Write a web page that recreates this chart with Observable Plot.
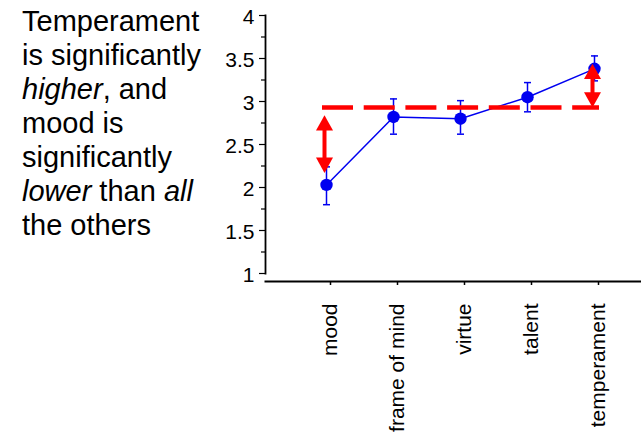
<!DOCTYPE html>
<html>
<head>
<meta charset="utf-8">
<script src="https://cdn.jsdelivr.net/npm/d3@7"></script>
<script src="https://cdn.jsdelivr.net/npm/@observablehq/plot@0.6"></script>
<style>
  html, body { margin: 0; padding: 0; background: #fff; }
  #wrap { position: relative; width: 641px; height: 435px; overflow: hidden; font-family: "Liberation Sans", Arial, sans-serif; }
  #note { position: absolute; left: 22px; top: 4px; font-size: 29px; line-height: 34px; color: #000; width: 200px; }
  #chart { position: absolute; left: 0; top: 0; }
</style>
</head>
<body>
<div id="wrap">
  <div id="chart"></div>
  <div id="note">Temperament<br>is significantly<br><i>higher</i>, and<br>mood is<br>significantly<br><i>lower</i> than <i>all</i><br>the others</div>
</div>
<script>
const categories = ["mood", "frame of mind", "virtue", "talent", "temperament"];
const means = [2.03, 2.82, 2.80, 3.05, 3.38];
const errLow = [1.80, 2.62, 2.62, 2.88, 3.24];
const errHigh = [2.24, 3.03, 3.01, 3.22, 3.53];
const yTicks = [1, 1.5, 2, 2.5, 3, 3.5, 4];
const yMinorTicks = [1.25, 1.75, 2.25, 2.75, 3.25, 3.75];
const referenceLevel = 2.93;
const arrowCategories = ["mood", "temperament"];
const arrowFrom = [2.17, 2.93];
const arrowTo = [2.84, 3.44];

const data = categories.map((c, i) => ({cat: c, mean: means[i], lo: errLow[i], hi: errHigh[i]}));
const arrows = arrowCategories.map((c, i) => ({cat: c, y1: arrowFrom[i], y2: arrowTo[i]}));
const refLine = [{from: categories[0], to: categories[categories.length - 1], y: referenceLevel}];

const blue = "#0000f0";
const red = "#ff0000";

// arrowhead symbols: tip at the data point
const headUp = {draw(ctx, size) { const r = Math.sqrt(size / Math.PI); ctx.moveTo(0, 0); ctx.lineTo(r, 1.8 * r); ctx.lineTo(-r, 1.8 * r); ctx.closePath(); }};
const headDown = {draw(ctx, size) { const r = Math.sqrt(size / Math.PI); ctx.moveTo(0, 0); ctx.lineTo(r, -1.8 * r); ctx.lineTo(-r, -1.8 * r); ctx.closePath(); }};
// error bar cap symbol: short horizontal line
const cap = {draw(ctx, size) { const r = Math.sqrt(size / Math.PI); ctx.moveTo(-r, 0); ctx.lineTo(r, 0); }};

const chart = Plot.plot({
  width: 641,
  height: 435,
  marginLeft: 265,
  marginRight: 0,
  marginTop: 15,
  marginBottom: 162,
  style: {fontFamily: "Liberation Sans, Arial, sans-serif", fontSize: "21px", color: "#000", background: "transparent"},
  x: {type: "point", domain: categories, padding: 0, insetLeft: 61, insetRight: 47},
  y: {domain: [1, 4]},
  marks: [
    Plot.axisY({ticks: yMinorTicks, tickSize: 4, tickFormat: () => "", strokeWidth: 1.2, label: null}),
    Plot.axisY({ticks: yTicks, tickSize: 6, tickFormat: () => "", strokeWidth: 1.2, label: null}),
    Plot.axisY({ticks: yTicks, tickSize: 0, tickPadding: 11, tickFormat: d => String(d), fontSize: 21, label: null, dy: 2}),
    Plot.frame({anchor: "left", strokeWidth: 1.8}),
    Plot.frame({anchor: "bottom", dy: 8, strokeWidth: 2}),
    Plot.axisX({tickSize: 4, dy: 8, tickPadding: 18, tickRotate: -90, fontSize: 21, label: null, strokeWidth: 1.5, dx: 4}),
    // error bars
    Plot.ruleX(data, {x: "cat", y1: "lo", y2: "hi", stroke: blue, strokeWidth: 1.5}),
    Plot.dot(data, {x: "cat", y: "lo", symbol: cap, r: 3.5, stroke: blue, fill: "none", strokeWidth: 1.5}),
    Plot.dot(data, {x: "cat", y: "hi", symbol: cap, r: 3.5, stroke: blue, fill: "none", strokeWidth: 1.5}),
    Plot.line(data, {x: "cat", y: "mean", stroke: blue, strokeWidth: 1.5}),
    Plot.dot(data, {x: "cat", y: "mean", r: 6.2, fill: blue, stroke: "none"}),
    // reference level
    Plot.ruleY(refLine, {x1: "from", x2: "to", y: "y", stroke: red, strokeWidth: 4.5, strokeDasharray: "31,10.7", insetLeft: -4, insetRight: -5}),
    // double arrows
    Plot.ruleX(arrows, {x: "cat", y1: "y1", y2: "y2", stroke: red, strokeWidth: 4, dx: -2, insetTop: -6, insetBottom: -6}),
    Plot.dot(arrows, {x: "cat", y: "y2", symbol: headUp, r: 8.5, fill: red, stroke: "none", dx: -2}),
    Plot.dot(arrows, {x: "cat", y: "y1", symbol: headDown, r: 8.5, fill: red, stroke: "none", dx: -2})
  ]
});
document.getElementById("chart").appendChild(chart);
</script>
</body>
</html>
